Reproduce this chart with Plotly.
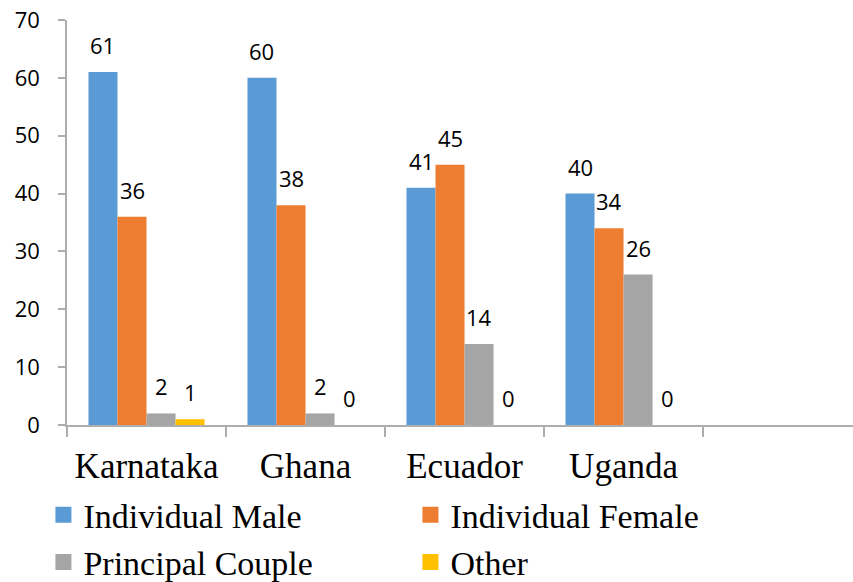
import plotly.graph_objects as go

categories = ["Karnataka", "Ghana", "Ecuador", "Uganda", " "]
series_names = ["Individual Male", "Individual Female", "Principal Couple", "Other"]
individual_male = [61, 60, 41, 40]
individual_female = [36, 38, 45, 34]
principal_couple = [2, 2, 14, 26]
other = [1, 0, 0, 0]
y_ticks = [0, 10, 20, 30, 40, 50, 60, 70]

colors = ["#5B9BD5", "#ED7D31", "#A5A5A5", "#FFC000"]
series_values = [individual_male, individual_female, principal_couple, other]

LABEL_FONT = dict(family="Open Sans, sans-serif", size=22, color="#000000")
SERIF_FONT = dict(family="Liberation Serif, serif", size=34, color="#000000")
TICK_SERIF = dict(family="Liberation Serif, serif", size=35, color="#000000")

fig = go.Figure()
n_cat = len(individual_male)
for name, vals, col in zip(series_names, series_values, colors):
    fig.add_trace(go.Bar(
        x=categories[:n_cat], y=vals, name=name,
        marker=dict(color=col, line=dict(width=0)),
        showlegend=False, hoverinfo="x+y+name",
    ))
    # legend entries with bigger square swatches
    fig.add_trace(go.Scatter(
        x=[None], y=[None], mode="markers", name=name,
        marker=dict(symbol="square", size=16, color=col),
        showlegend=True,
    ))

# data labels
plot_left, plot_right = 67, 853
x_range = [-0.5, 4.443]
cat_px = (plot_right - plot_left) / (x_range[1] - x_range[0])
bargap = 0.27
bar_px = cat_px * (1 - bargap) / len(series_names)
annotations = []
for i, vals in enumerate(series_values):
    for c, v in zip(categories, vals):
        annotations.append(dict(
            x=c, y=v, text=str(v), showarrow=False,
            xref="x", yref="y", xanchor="center", yanchor="middle",
            xshift=(i - (len(series_names) - 1) / 2) * bar_px, yshift=27,
            font=LABEL_FONT,
        ))

fig.update_layout(
    width=853, height=582,
    margin=dict(l=67, r=0, t=20, b=157, autoexpand=False),
    paper_bgcolor="white", plot_bgcolor="white",
    barmode="group", bargap=bargap, bargroupgap=0,
    annotations=annotations,
    legend=dict(
        orientation="h", x=-0.03, xanchor="left",
        y=-0.151, yanchor="top",
        font=SERIF_FONT, itemsizing="trace",
        entrywidth=322, entrywidthmode="pixels",
        bgcolor="rgba(0,0,0,0)", traceorder="normal",
    ),
    xaxis=dict(
        type="category", categoryorder="array", categoryarray=categories,
        range=x_range, showline=True, linecolor="#ADADAD", linewidth=1.5,
        ticks="outside", tickson="boundaries", ticklen=10, tickcolor="#ADADAD",
        tickwidth=1.5, showgrid=False, zeroline=False, automargin=False,
        tickfont=TICK_SERIF, ticklabelstandoff=9,
    ),
    yaxis=dict(
        range=[0, 70], tickvals=y_ticks, showline=True, linecolor="#ADADAD",
        linewidth=1.5, ticks="outside", ticklen=7, tickcolor="#ADADAD",
        tickwidth=1.5, showgrid=False, zeroline=False, automargin=False,
        tickfont=LABEL_FONT, ticklabelstandoff=14,
    ),
)

fig.write_html(
    "out.html",
    config={"displayModeBar": False},
    post_script="document.body.style.margin='0';document.body.style.overflow='hidden';",
)
